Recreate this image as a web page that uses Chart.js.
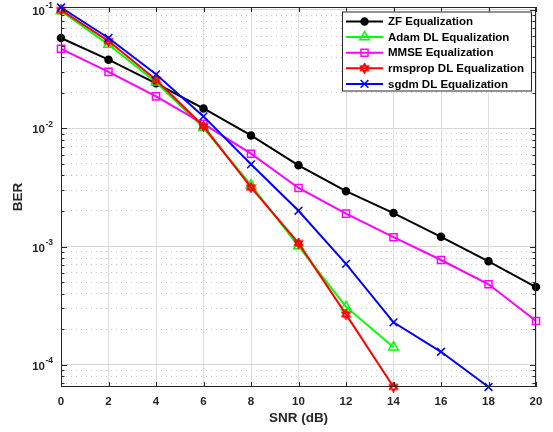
<!DOCTYPE html>
<html><head><meta charset="utf-8">
<script src="https://cdn.jsdelivr.net/npm/chart.js@4.4.0/dist/chart.umd.min.js"></script>
<style>html,body{margin:0;padding:0;background:#fff;} #wrap{width:553px;height:432px;}</style>
</head><body><div id="wrap"><canvas id="c" width="553" height="432"></canvas></div>
<script>
// ---- data ----
const snr = [0, 2, 4, 6, 8, 10, 12, 14, 16, 18, 20];
const zf      = [0.058, 0.038, 0.024, 0.0147, 0.0087, 0.00486, 0.00294, 0.00192, 0.00121, 0.00075, 0.000455];
const adam    = [0.098, 0.051, 0.0245, 0.0101, 0.0033, 0.00101, 0.000309, 0.000141];
const mmse    = [0.047, 0.030, 0.0186, 0.0109, 0.0061, 0.00313, 0.0019, 0.0012, 0.00077, 0.00048, 0.000235];
const rmsprop = [0.100, 0.0546, 0.0257, 0.0104, 0.00316, 0.00107, 0.000267, 0.000065];
const sgdm    = [0.105, 0.058, 0.0286, 0.0126, 0.00496, 0.00201, 0.000715, 0.000229, 0.000129, 0.000065];
const seriesNames = ['ZF Equalization', 'Adam DL Equalization', 'MMSE Equalization', 'rmsprop DL Equalization', 'sgdm DL Equalization'];
const xTicks = [0, 2, 4, 6, 8, 10, 12, 14, 16, 18, 20];
const yDecades = [-4, -3, -2, -1];
const yRange = [6.5e-5, 0.106];
const xTitle = 'SNR (dB)';
const yTitle = 'BER';

const FONT = '"Liberation Sans", Arial, Helvetica, sans-serif';
const AX = '#262626';

function hexagram(color, size) {
  const c = document.createElement('canvas');
  c.width = c.height = size;
  const g = c.getContext('2d');
  const cx = size / 2, r = size / 2 - 1;
  g.strokeStyle = color; g.lineWidth = 1.6; g.lineJoin = 'miter';
  for (let k = 0; k < 2; k++) {
    g.beginPath();
    for (let i = 0; i < 3; i++) {
      const a = -Math.PI / 2 + k * Math.PI + i * 2 * Math.PI / 3;
      const px = cx + r * Math.cos(a), py = cx + r * Math.sin(a);
      if (i === 0) g.moveTo(px, py); else g.lineTo(px, py);
    }
    g.closePath(); g.stroke();
  }
  return c;
}
const hexRed = hexagram('#ff0000', 11);

function pts(arr) { return arr.map((v, i) => ({ x: snr[i], y: v })); }

const styles = [
  { color: '#000000', pointStyle: 'circle', radius: 3.5, fill: '#000000', order: 5 },
  { color: '#00ff00', pointStyle: 'triangle', radius: 5.5, fill: 'rgba(0,0,0,0)', order: 4 },
  { color: '#ff00ff', pointStyle: 'rect', radius: 5, fill: 'rgba(0,0,0,0)', order: 3 },
  { color: '#ff0000', pointStyle: hexRed, radius: 5, fill: 'rgba(0,0,0,0)', order: 2 },
  { color: '#0000ff', pointStyle: 'crossRot', radius: 5.5, fill: 'rgba(0,0,0,0)', order: 1 }
];
const allSeries = [zf, adam, mmse, rmsprop, sgdm];

const datasets = allSeries.map((s, i) => ({
  label: seriesNames[i],
  data: pts(s),
  borderColor: styles[i].color,
  backgroundColor: styles[i].fill,
  borderWidth: 2,
  pointStyle: styles[i].pointStyle,
  pointRadius: styles[i].radius,
  pointBorderWidth: 1.5,
  pointBorderColor: styles[i].color,
  pointBackgroundColor: styles[i].fill,
  tension: 0,
  clip: false,
  order: styles[i].order
}));

function isDecade(v) {
  const l = Math.log10(v);
  return Math.abs(l - Math.round(l)) < 1e-9;
}

const decorPlugin = {
  id: 'decor',
  afterDraw(chart) {
    const ctx = chart.ctx;
    const a = chart.chartArea;
    const xs = chart.scales.x, ys = chart.scales.y;
    ctx.save();
    // box
    ctx.strokeStyle = AX; ctx.lineWidth = 1;
    ctx.strokeRect(a.left + 0.5, a.top + 0.5, a.right - a.left - 1, a.bottom - a.top - 1);
    // inside ticks x
    ctx.beginPath();
    xs.ticks.forEach(t => {
      const px = Math.round(xs.getPixelForValue(t.value)) + 0.5;
      ctx.moveTo(px, a.bottom); ctx.lineTo(px, a.bottom - 5);
      ctx.moveTo(px, a.top); ctx.lineTo(px, a.top + 5);
    });
    ys.ticks.forEach(t => {
      const py = Math.round(ys.getPixelForValue(t.value)) + 0.5;
      const len = isDecade(t.value) ? 6 : 3.5;
      ctx.moveTo(a.left, py); ctx.lineTo(a.left + len, py);
      ctx.moveTo(a.right, py); ctx.lineTo(a.right - len, py);
    });
    ctx.stroke();
    // y tick labels 10^n
    ctx.fillStyle = AX;
    yDecades.forEach(e => {
      const py = ys.getPixelForValue(Math.pow(10, e));
      ctx.font = 'bold 11.5px ' + FONT;
      ctx.textAlign = 'right'; ctx.textBaseline = 'middle';
      const baseRight = a.left - 16;
      ctx.fillText('10', baseRight, py + 2);
      ctx.font = 'bold 8.5px ' + FONT;
      ctx.textAlign = 'left';
      ctx.fillText('-' + Math.abs(e), baseRight + 0.5, py - 4);
    });
    // axis titles
    ctx.font = 'bold 13.5px ' + FONT;
    ctx.textAlign = 'center'; ctx.textBaseline = 'middle';
    ctx.fillText(xTitle, (a.left + a.right) / 2, 418);
    ctx.save();
    ctx.translate(18.5, (a.top + a.bottom) / 2);
    ctx.rotate(-Math.PI / 2);
    ctx.fillText(yTitle, 0, 0);
    ctx.restore();
    // legend
    const bx = a.right - 194, by = a.top + 4.5, bw = 190, bh = 80;
    ctx.fillStyle = '#ffffff';
    ctx.fillRect(bx, by, bw, bh);
    ctx.strokeStyle = '#262626'; ctx.lineWidth = 1;
    ctx.strokeRect(bx + 0.5, by + 0.5, bw - 1, bh - 1);
    const rowH = 15.6;
    chart.data.datasets.forEach((d, i) => {
      const ry = by + 10 + i * rowH;
      const lx0 = bx + 4, lx1 = bx + 41;
      ctx.strokeStyle = d.borderColor; ctx.lineWidth = 2;
      ctx.beginPath(); ctx.moveTo(lx0, ry); ctx.lineTo(lx1, ry); ctx.stroke();
      ctx.strokeStyle = d.pointBorderColor; ctx.fillStyle = d.pointBackgroundColor; ctx.lineWidth = 1.5;
      Chart.helpers.drawPoint(ctx, { pointStyle: d.pointStyle, radius: d.pointRadius, rotation: 0, borderWidth: 1.5 }, (lx0 + lx1) / 2, ry);
      ctx.fillStyle = '#000000';
      ctx.font = 'bold 11.5px ' + FONT;
      ctx.textAlign = 'left'; ctx.textBaseline = 'middle';
      ctx.fillText(d.label, bx + 46, ry + 0.5);
    });
    ctx.restore();
  }
};

new Chart(document.getElementById('c'), {
  type: 'line',
  data: { datasets },
  options: {
    responsive: false,
    animation: false,
    events: [],
    layout: { padding: { top: 5, right: 17, left: 0, bottom: 0 } },
    plugins: { legend: { display: false }, tooltip: { enabled: false } },
    scales: {
      x: {
        type: 'linear', min: 0, max: 20,
        afterBuildTicks(s) { s.ticks = xTicks.map(v => ({ value: v })); },
        afterFit(s) { s.height = 45; },
        ticks: { color: AX, font: { family: FONT, size: 11.5, weight: 'bold' }, padding: 8, maxRotation: 0, autoSkip: false,
                 callback: v => String(v) },
        grid: { color: '#dedede', lineWidth: 1, drawTicks: false },
        border: { display: false }
      },
      y: {
        type: 'logarithmic', min: yRange[0], max: yRange[1],
        afterBuildTicks(s) {
          const t = [];
          for (let e = -5; e <= -1; e++) {
            for (let m = 1; m <= 9; m++) {
              const v = m * Math.pow(10, e);
              if (v >= yRange[0] && v <= yRange[1] * 1.0001) t.push({ value: v });
            }
          }
          s.ticks = t;
        },
        afterFit(s) { s.width = 61; },
        ticks: { display: false },
        grid: {
          drawTicks: false,
          color: ctx => (ctx.tick && isDecade(ctx.tick.value)) ? '#d6d6d6' : '#c4c4c4',
          lineWidth: 1
        },
        border: {
          display: false,
          dash: ctx => (ctx.tick && !isDecade(ctx.tick.value)) ? [1, 4] : []
        }
      }
    }
  },
  plugins: [decorPlugin]
});
</script>
</body></html>
